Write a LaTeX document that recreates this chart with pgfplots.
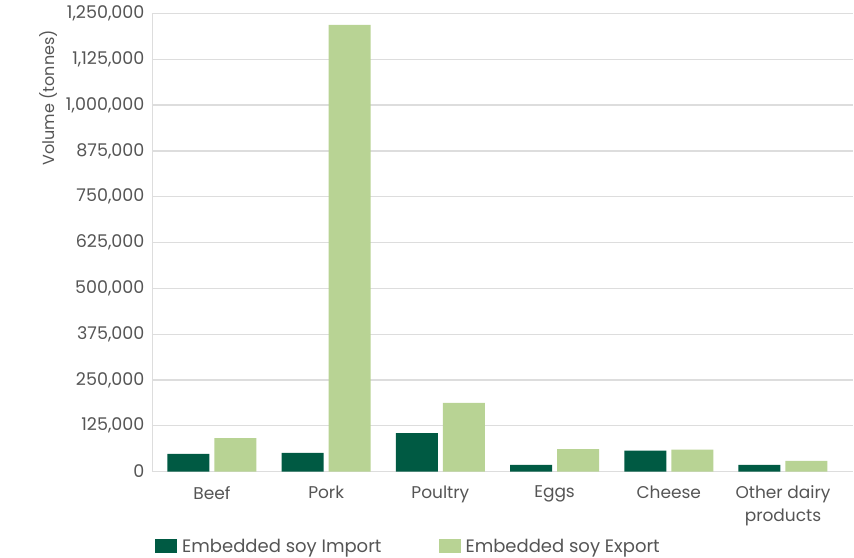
\documentclass[border=0pt]{standalone}
\usepackage{pgfplots}
\pgfplotsset{compat=1.18}
\usepackage{fontspec}
\setmainfont{Poppins}
\definecolor{darkg}{HTML}{005A43}
\definecolor{lightg}{HTML}{B8D394}
\definecolor{txt}{HTML}{555555}
\definecolor{gridc}{HTML}{DDDDDD}
\begin{document}
\begin{tikzpicture}
\begin{axis}[
  scale only axis, width=701pt, height=458pt,
  xmin=-0.525, xmax=5.613, ymin=0, ymax=1250000,
  xtick={0,1,2,3,4,5},
  xticklabels={Beef,Pork,Poultry,Eggs,Cheese,Other dairy\\products},
  xticklabel style={align=center, text=txt, font=\fontsize{17}{23}\selectfont, yshift=-11pt},
  ytick={0,125000,250000,375000,500000,625000,750000,875000,1000000,1125000,1250000},
  scaled y ticks=false,
  yticklabel style={/pgf/number format/.cd, fixed, 1000 sep={,}, /tikz/.cd, text=txt, font=\fontsize{17.5}{20}\selectfont, xshift=-4pt},
  /pgf/number format/assume math mode=true,
  ymajorgrids, grid style={gridc, line width=1.2pt},
  major tick length=0pt,
  axis x line*=bottom, axis y line*=left,
  x axis line style={draw=gridc, line width=1.5pt, -},
  y axis line style={draw=gridc, line width=0.8pt, -},
  ylabel={Volume (tonnes)},
  ylabel style={at={(ticklabel cs:1)}, anchor=south east, text=txt, font=\fontsize{16}{18}\selectfont, xshift=-13pt, yshift=2pt},
  ybar, bar width=42pt,
  legend style={at={(0,0)}, anchor=north west, yshift=-63pt, draw=none, fill=none, legend columns=2,
    font=\fontsize{18}{20}\selectfont, text=txt,
    /tikz/every even column/.append style={column sep=55pt}},
  legend image code/.code={\fill[#1] (0pt,-7pt) rectangle (22pt,7pt);},
  legend cell align=left,
  clip=false,
]
\addplot[fill=darkg, draw=none, bar shift=-23.5pt] coordinates {(0,48000) (1,51000) (2,105000) (3,18000) (4,57000) (5,18000)};
\addlegendentry{\hspace{3pt}Embedded soy Import}
\addplot[fill=lightg, draw=none, bar shift=23.5pt] coordinates {(0,91000) (1,1219000) (2,187000) (3,61000) (4,60000) (5,29000)};
\addlegendentry{\hspace{3pt}Embedded soy Export}
\end{axis}
\path (current axis.south west) ++(-152pt,-85.5pt) rectangle ++(854pt,557pt);
\end{tikzpicture}
\end{document}
